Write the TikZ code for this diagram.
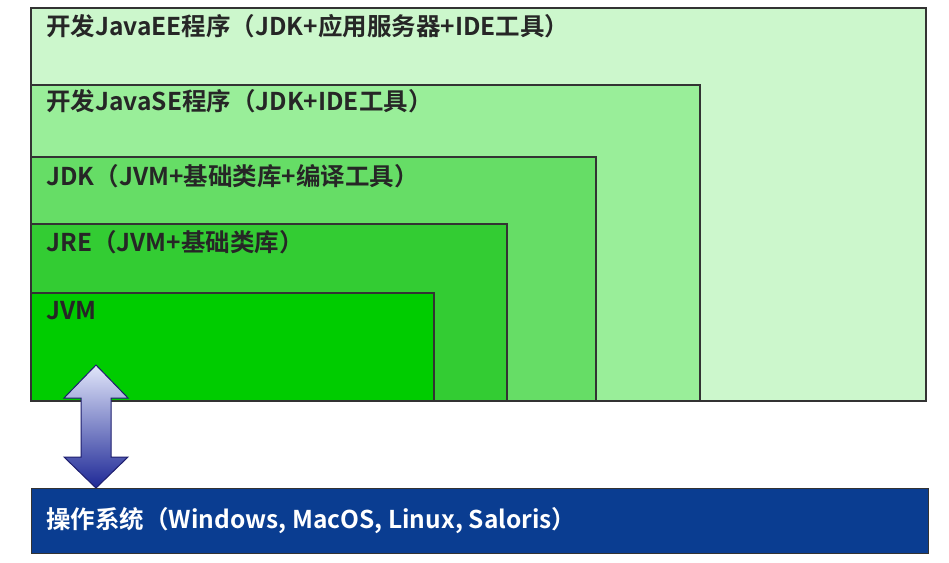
\documentclass[tikz,border=0pt]{standalone}
\usepackage{fontspec}
\setmainfont{Noto Sans CJK SC}[UprightFont=* Bold]
\begin{document}
\begin{tikzpicture}[x=1pt, y=-1pt, thick,
  layer/.style = {draw=black!80, line width=1.6pt},
  lbl/.style = {anchor=west, inner sep=0pt, font=\fontsize{24.5}{28}\selectfont, text=black!85}]
\useasboundingbox (0,0) rectangle (949,562);
\fill[white] (0,0) rectangle (949,562);
% nested boxes
\draw[layer, fill={rgb,255:red,204;green,247;blue,204}] (31,8) rectangle (926,401);
\draw[layer, fill={rgb,255:red,153;green,238;blue,153}] (31,85) rectangle (700,401);
\draw[layer, fill={rgb,255:red,102;green,221;blue,102}] (31,157) rectangle (596,401);
\draw[layer, fill={rgb,255:red,51;green,204;blue,51}] (31,224) rectangle (507,401);
\draw[layer, fill={rgb,255:red,0;green,204;blue,0}] (31,293) rectangle (434,401);
\node[lbl] (ee) at (46,26) {开发JavaEE程序（JDK+应用服务器+IDE工具）};
\node[lbl] (se) at (46,101) {开发JavaSE程序（JDK+IDE工具）};
\node[lbl] (jdk) at (46,176) {JDK（JVM+基础类库+编译工具）};
\node[lbl] (jre) at (46,242) {JRE（JVM+基础类库）};
\node[lbl] (jvm) at (46,311) {JVM};
% operating system
\node[draw=black!80, line width=1.2pt, fill={rgb,255:red,10;green,61;blue,145},
  minimum width=897pt, minimum height=65pt, inner sep=0pt, anchor=north west]
  (os) at (31,488) {};
\node[lbl, text=white] (ostext) at (46,521) {操作系统（Windows, MacOS, Linux, Saloris）};
% double arrow
\draw[line width=1pt, draw={rgb,255:red,30;green,30;blue,110},
  top color={rgb,255:red,225;green,230;blue,250},
  bottom color={rgb,255:red,30;green,40;blue,150}]
  (96,365) -- (128,398) -- (111,398) -- (111,457) -- (128,457) -- (96,488)
  -- (64,457) -- (81,457) -- (81,398) -- (64,398) -- cycle;
\end{tikzpicture}
\end{document}
